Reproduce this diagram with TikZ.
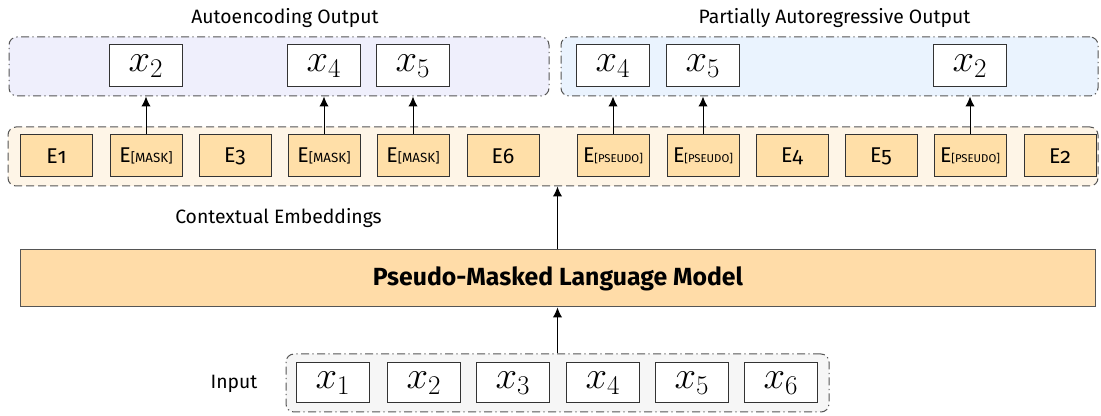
\documentclass[tikz,border=0pt]{standalone}
\usepackage{fix-cm}
\usepackage{fontspec}
\setmainfont{Fira Sans}
\newfontfamily\efont[Numbers=OldStyle]{Fira Sans}
\usetikzlibrary{arrows.meta,fit}
\definecolor{aefill}{HTML}{EFEFFC}
\definecolor{parfill}{HTML}{EAF3FE}
\definecolor{embfill}{HTML}{FEF5E7}
\definecolor{boxfill}{HTML}{FFDFA8}
\definecolor{lmfill}{HTML}{FFDCA8}
\definecolor{infill}{HTML}{F6F6F6}
\definecolor{edge}{HTML}{333333}
\definecolor{grpedge}{HTML}{555555}
\newcommand{\Enum}[1]{{\efont\fontsize{16}{16}\selectfont E#1}}
\newcommand{\Emask}{{\fontsize{16}{16}\selectfont E}{\fontsize{10}{10}\selectfont[MASK]}}
\newcommand{\Epseudo}{{\fontsize{16}{16}\selectfont E}{\fontsize{8.5}{8.5}\selectfont[PSEUDO]}}
\tikzset{
  grpbase/.style={rounded corners=6pt, draw=grpedge, line width=0.75pt, inner sep=0pt},
  dashdot/.style={dash pattern=on 6pt off 2.5pt on 1pt off 2.5pt},
  dashlong/.style={dash pattern=on 6pt off 3pt},
  ebox/.style={draw=edge, fill=boxfill, line width=0.75pt, minimum width=54pt, minimum height=31.5pt, inner sep=0pt},
  obox/.style={draw=edge, fill=white, line width=0.75pt, minimum width=54.5pt, minimum height=31.5pt, inner sep=0pt, font=\fontsize{29}{29}\selectfont},
  ibox/.style={draw=edge, fill=white, line width=0.75pt, minimum width=54.5pt, minimum height=30pt, inner sep=0pt, font=\fontsize{29}{29}\selectfont},
  lbl/.style={font=\fontsize{14.5}{14.5}\selectfont, inner sep=0pt},
  arr/.style={draw=black, line width=0.75pt, -{Latex[length=7.5pt,width=7pt]}},
}
\begin{document}
\begin{tikzpicture}[x=0.75pt,y=-0.75pt]
\useasboundingbox (0,0) rectangle (1101,416);
% group boxes
\node[grpbase, dashdot, fill=aefill, fit={(9,37) (549,96)}] (ae) {};
\node[grpbase, dashdot, fill=parfill, fit={(561,37) (1098,96)}] (par) {};
\node[grpbase, dashlong, fill=embfill, fit={(8,127) (1098,186)}] (emb) {};
\node[grpbase, dashdot, fill=infill, fit={(286,354) (829,412)}] (inp) {};
% labels
\node[lbl] (aelbl) at (285,18.5) {Autoencoding Output};
\node[lbl] (parlbl) at (834.5,18.5) {Partially Autoregressive Output};
\node[lbl] (ctxlbl) at (278.5,218) {Contextual Embeddings};
\node[lbl] (inlbl) at (234,384) {Input};
% output boxes
\node[obox] (o2) at (146,66) {$x_2$};
\node[obox] (o4) at (324,66) {$x_4$};
\node[obox] (o5) at (413,66) {$x_5$};
\node[obox] (p4) at (613,66) {$x_4$};
\node[obox] (p5) at (703,66) {$x_5$};
\node[obox] (p2) at (970,66) {$x_2$};
% embeddings
\node[ebox] (e1) at (56.5,156) {\Enum{1}};
\node[ebox] (e2) at (146,156) {\Emask};
\node[ebox] (e3) at (235,156) {\Enum{3}};
\node[ebox] (e4) at (324,156) {\Emask};
\node[ebox] (e5) at (413,156) {\Emask};
\node[ebox] (e6) at (503,156) {\Enum{6}};
\node[ebox] (f1) at (613,156) {\Epseudo};
\node[ebox] (f2) at (703,156) {\Epseudo};
\node[ebox] (f3) at (792,156) {\Enum{4}};
\node[ebox] (f4) at (881,156) {\Enum{5}};
\node[ebox] (f5) at (970,156) {\Epseudo};
\node[ebox] (f6) at (1060,156) {\Enum{2}};
% model
\node[draw=grpedge, fill=lmfill, line width=0.75pt, fit={(20,250) (1095,307)}, inner sep=0pt] (lm) {};
\node[font=\fontsize{18.6}{18.6}\selectfont\bfseries, inner sep=0pt] (lmlbl) at (558,278.5) {Pseudo-Masked Language Model};
% inputs
\node[ibox] (i1) at (333,383) {$x_1$};
\node[ibox] (i2) at (424,383) {$x_2$};
\node[ibox] (i3) at (513,383) {$x_3$};
\node[ibox] (i4) at (603,383) {$x_4$};
\node[ibox] (i5) at (692,383) {$x_5$};
\node[ibox] (i6) at (781,383) {$x_6$};
% arrows
\draw[arr] (e2.north) -- (e2.north |- ae.south);
\draw[arr] (e4.north) -- (e4.north |- ae.south);
\draw[arr] (e5.north) -- (e5.north |- ae.south);
\draw[arr] (f1.north) -- (f1.north |- par.south);
\draw[arr] (f2.north) -- (f2.north |- par.south);
\draw[arr] (f5.north) -- (f5.north |- par.south);
\draw[arr] (inp.north) -- (inp.north |- lm.south);
\draw[arr] (inp.north |- lm.north) -- (inp.north |- emb.south);
\end{tikzpicture}
\end{document}
